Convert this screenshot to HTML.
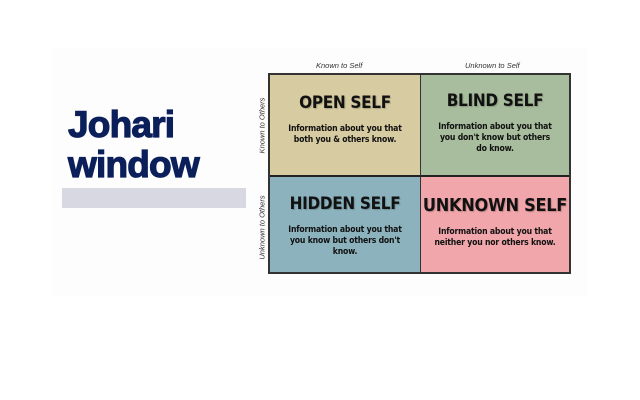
<!DOCTYPE html>
<html><head><meta charset="utf-8"><style>
html,body{margin:0;padding:0;background:#fff;}
body{width:640px;height:400px;position:relative;overflow:hidden;font-family:"Liberation Sans",sans-serif;}
.slide{position:absolute;left:52px;top:48px;width:535px;height:248px;background:#fdfdfd;}
.t{position:absolute;left:68px;color:#0b1f5a;font-weight:bold;font-size:37px;letter-spacing:-0.8px;line-height:1;-webkit-text-stroke:1.2px #0b1f5a;}
.bar{position:absolute;left:62px;top:188px;width:184px;height:20px;background:#d7d8e2;}
.grid{position:absolute;left:268px;top:73px;width:303px;height:201px;border:2px solid #333;box-sizing:border-box;}
.q{position:absolute;box-sizing:border-box;text-align:center;color:#111;}
.q h{display:block;font-family:"DejaVu Sans Condensed","DejaVu Sans",sans-serif;font-weight:bold;font-size:17px;letter-spacing:-0.3px;text-shadow:1px 1px 1px rgba(0,0,0,.2);}
.q p{margin:0;font-family:"DejaVu Sans Condensed","DejaVu Sans",sans-serif;font-weight:bold;font-size:8.6px;line-height:11px;letter-spacing:-0.2px;}
.lab{position:absolute;font-style:italic;font-size:7.5px;color:#333;}
.vl{position:absolute;font-style:italic;font-size:7.5px;color:#333;transform:rotate(-90deg);transform-origin:center;white-space:nowrap;width:100px;text-align:center;}
</style></head><body>
<div class="slide"></div>
<div class="t" style="top:106px">Johari</div>
<div class="t" style="top:146px">window</div>
<div class="bar"></div>
<div class="lab" style="left:316px;top:61px">Known to Self</div>
<div class="lab" style="left:465px;top:61px">Unknown to Self</div>
<div class="vl" style="left:212px;top:121px">Known to Others</div>
<div class="vl" style="left:212px;top:223px">Unknown to Others</div>
<div class="grid">
<div class="q" style="left:0;top:0;width:151px;height:102px;background:#d7cba1;border-right:1px solid #333;border-bottom:2px solid #222;padding-top:18px"><h>OPEN SELF</h><p style="margin-top:11px">Information about you that<br>both you &amp; others know.</p></div>
<div class="q" style="left:151px;top:0;width:148px;height:102px;background:#a8bd9d;border-bottom:2px solid #222;padding-top:16px"><h>BLIND SELF</h><p style="margin-top:11px">Information about you that<br>you don't know but others<br>do know.</p></div>
<div class="q" style="left:0;top:102px;width:151px;height:95px;background:#8bb2bd;border-right:1px solid #333;padding-top:17px"><h>HIDDEN SELF</h><p style="margin-top:11px">Information about you that<br>you know but others don't<br>know.</p></div>
<div class="q" style="left:151px;top:102px;width:148px;height:95px;background:#f0a6aa;padding-top:18px"><h style="font-size:18px">UNKNOWN SELF</h><p style="margin-top:11px">Information about you that<br>neither you nor others know.</p></div>
</div>
</body></html>
